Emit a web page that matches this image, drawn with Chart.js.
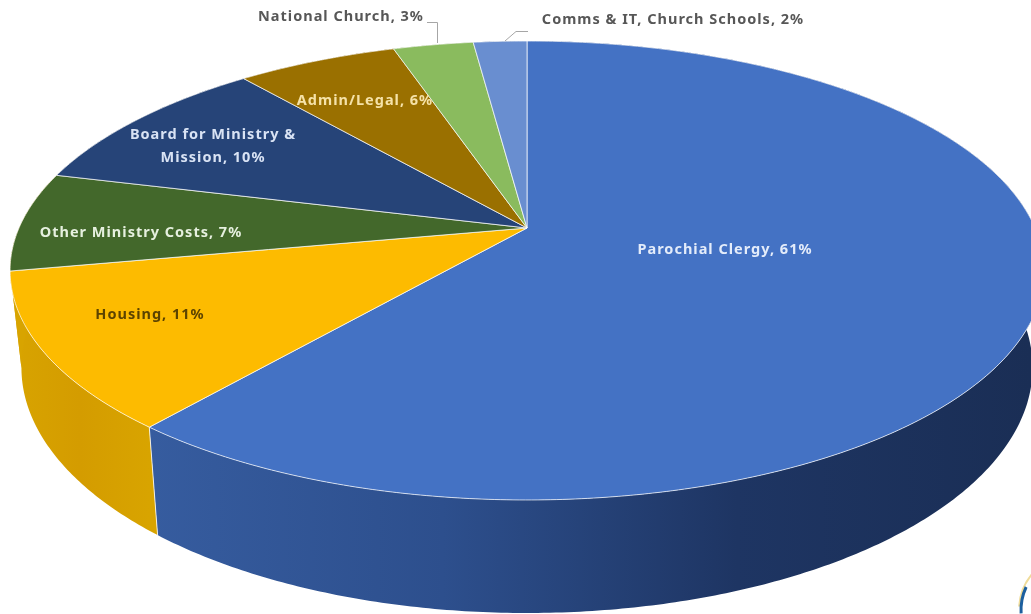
<!DOCTYPE html>
<html>
<head>
<meta charset="utf-8">
<title>Expenditure</title>
<script src="https://cdn.jsdelivr.net/npm/chart.js@4/dist/chart.umd.min.js"></script>
<style>
  html, body { margin: 0; padding: 0; background: #fff; overflow: hidden; }
  canvas { display: block; }
</style>
</head>
<body>
<canvas id="budget-pie" width="1031" height="614"></canvas>
<script>
// Spending split, clockwise from twelve o'clock
const categories = ['Parochial Clergy', 'Housing', 'Other Ministry Costs', 'Board for Ministry & Mission', 'Admin/Legal', 'National Church', 'Comms & IT, Church Schools'];
const shares = [61, 11, 7, 10, 6, 3, 2];

const topColors = ['#4472c4', '#fdbb00', '#43682b', '#264478', '#9a7000', '#8abb5e', '#698ed0'];
// Housing colour carries on under the green slice so the left edge of the wall stays yellow
const wallStops = [['#365c9f', '#2d4f8d', '#1e3563', '#1a2e55'], ['#d8a400', '#d49c00', '#d8a400'], ['#d8a400'], ['#1b3054'], ['#6d5000'], ['#628542'], ['#4a6494']];
const textColors = ['#e4ecfa', '#5c4300', '#e6f0df', '#d9e3f4', '#f5e2a8', '#575757', '#575757'];

// Where each label sits, one row per text line
const labelLines = [
  [['', 725, 250]],
  [['', 150, 315]],
  [['', 141, 233]],
  [['Board for Ministry &', 213, 135], ['Mission, 10%', 213, 158]],
  [['', 365, 101]],
  [['', 341, 17]],
  [['', 673, 20]]
];

// Perspective disc: centre, half axes, and how strongly the far side shrinks
const disc = { cx: 527, cy: 228, a: 508, b: 221.6, k: 0.1852 };
// Underside of the disc, relative to the top face
const base = { cy: 322, sx: 0.978, sy: 1.07 };

function topPoint(angle) {
  const u = Math.cos(angle), v = Math.sin(angle);
  const w = 1 - disc.k * v;
  return { x: disc.cx + disc.a * u / w, y: disc.cy + disc.b * v / w };
}

function basePoint(angle) {
  const p = topPoint(angle);
  return { x: disc.cx + (p.x - disc.cx) * base.sx, y: base.cy + (p.y - disc.cy) * base.sy };
}

function sampleAngles(start, end) {
  const steps = Math.max(2, Math.ceil((end - start) / 0.01));
  const list = [];
  for (let i = 0; i <= steps; i++) list.push(start + (end - start) * i / steps);
  return list;
}

const tiltedPie = {
  id: 'tiltedPie',
  beforeDatasetDraw(chart, args) {
    const ctx = chart.ctx;
    const arcs = chart.getDatasetMeta(args.index).data;
    ctx.save();
    ctx.lineJoin = 'round';

    // side wall first, the top face covers whatever is behind it
    arcs.forEach((arc, i) => {
      const angles = sampleAngles(arc.startAngle, arc.endAngle);
      const stops = wallStops[i];
      let fill = stops[0];
      if (stops.length > 1) {
        const xs = angles.map(a => topPoint(a).x);
        fill = ctx.createLinearGradient(Math.max(0, Math.min(...xs)), 0, Math.min(1031, Math.max(...xs)), 0);
        stops.forEach((c, n) => fill.addColorStop(n / (stops.length - 1), c));
      }
      ctx.beginPath();
      angles.forEach((a, n) => {
        const p = topPoint(a);
        if (n === 0) ctx.moveTo(p.x, p.y); else ctx.lineTo(p.x, p.y);
      });
      angles.slice().reverse().forEach(a => {
        const p = basePoint(a);
        ctx.lineTo(p.x, p.y);
      });
      ctx.closePath();
      ctx.fillStyle = fill;
      ctx.fill();
    });

    // light seam where clergy and housing meet on the wall
    const seam = arcs[0].endAngle;
    const s1 = topPoint(seam), s2 = basePoint(seam);
    ctx.beginPath();
    ctx.moveTo(s1.x, s1.y);
    ctx.lineTo(s2.x, s2.y);
    ctx.strokeStyle = 'rgba(255,255,255,0.8)';
    ctx.lineWidth = 1;
    ctx.stroke();

    // top face
    arcs.forEach(arc => {
      ctx.beginPath();
      ctx.moveTo(disc.cx, disc.cy);
      sampleAngles(arc.startAngle, arc.endAngle).forEach(a => {
        const p = topPoint(a);
        ctx.lineTo(p.x, p.y);
      });
      ctx.closePath();
      ctx.fillStyle = arc.options.backgroundColor;
      ctx.fill();
      ctx.strokeStyle = arc.options.borderColor;
      ctx.lineWidth = arc.options.borderWidth;
      ctx.stroke();
    });
    ctx.restore();
    return false;
  },
  afterDatasetsDraw(chart) {
    const ctx = chart.ctx;
    ctx.save();

    // leader lines for the two thin slices
    ctx.strokeStyle = '#a6a6a6';
    ctx.lineWidth = 1;
    ctx.beginPath();
    ctx.moveTo(427, 22.5);
    ctx.lineTo(437.5, 22.5);
    ctx.lineTo(437.5, 43);
    ctx.moveTo(505, 41);
    ctx.lineTo(516, 31.5);
    ctx.lineTo(528, 31.5);
    ctx.stroke();

    // data labels
    ctx.font = 'bold 14.5px "Noto Sans"';
    ctx.letterSpacing = '1px';
    ctx.textAlign = 'center';
    ctx.textBaseline = 'middle';
    categories.forEach((name, i) => {
      ctx.fillStyle = textColors[i];
      labelLines[i].forEach(([text, x, y]) => {
        ctx.fillText(text || `${name}, ${shares[i]}%`, x, y);
      });
    });

    // edge of the crest in the bottom corner
    ctx.lineWidth = 2;
    ctx.strokeStyle = '#f0dc9a';
    ctx.beginPath();
    ctx.arc(1075, 610, 56, Math.PI * 1.02, Math.PI * 1.25);
    ctx.stroke();
    ctx.strokeStyle = '#1c5f9e';
    ctx.lineWidth = 3;
    ctx.beginPath();
    ctx.arc(1075, 610, 54, Math.PI * 0.98, Math.PI * 1.14);
    ctx.stroke();
    ctx.restore();
  }
};

new Chart(document.getElementById('budget-pie'), {
  type: 'pie',
  data: {
    labels: categories,
    datasets: [{
      data: shares,
      backgroundColor: topColors,
      borderColor: 'rgba(255,255,255,0.7)',
      borderWidth: 1
    }]
  },
  options: {
    responsive: false,
    animation: false,
    plugins: { legend: { display: false }, tooltip: { enabled: false } }
  },
  plugins: [tiltedPie]
});
</script>
</body>
</html>
